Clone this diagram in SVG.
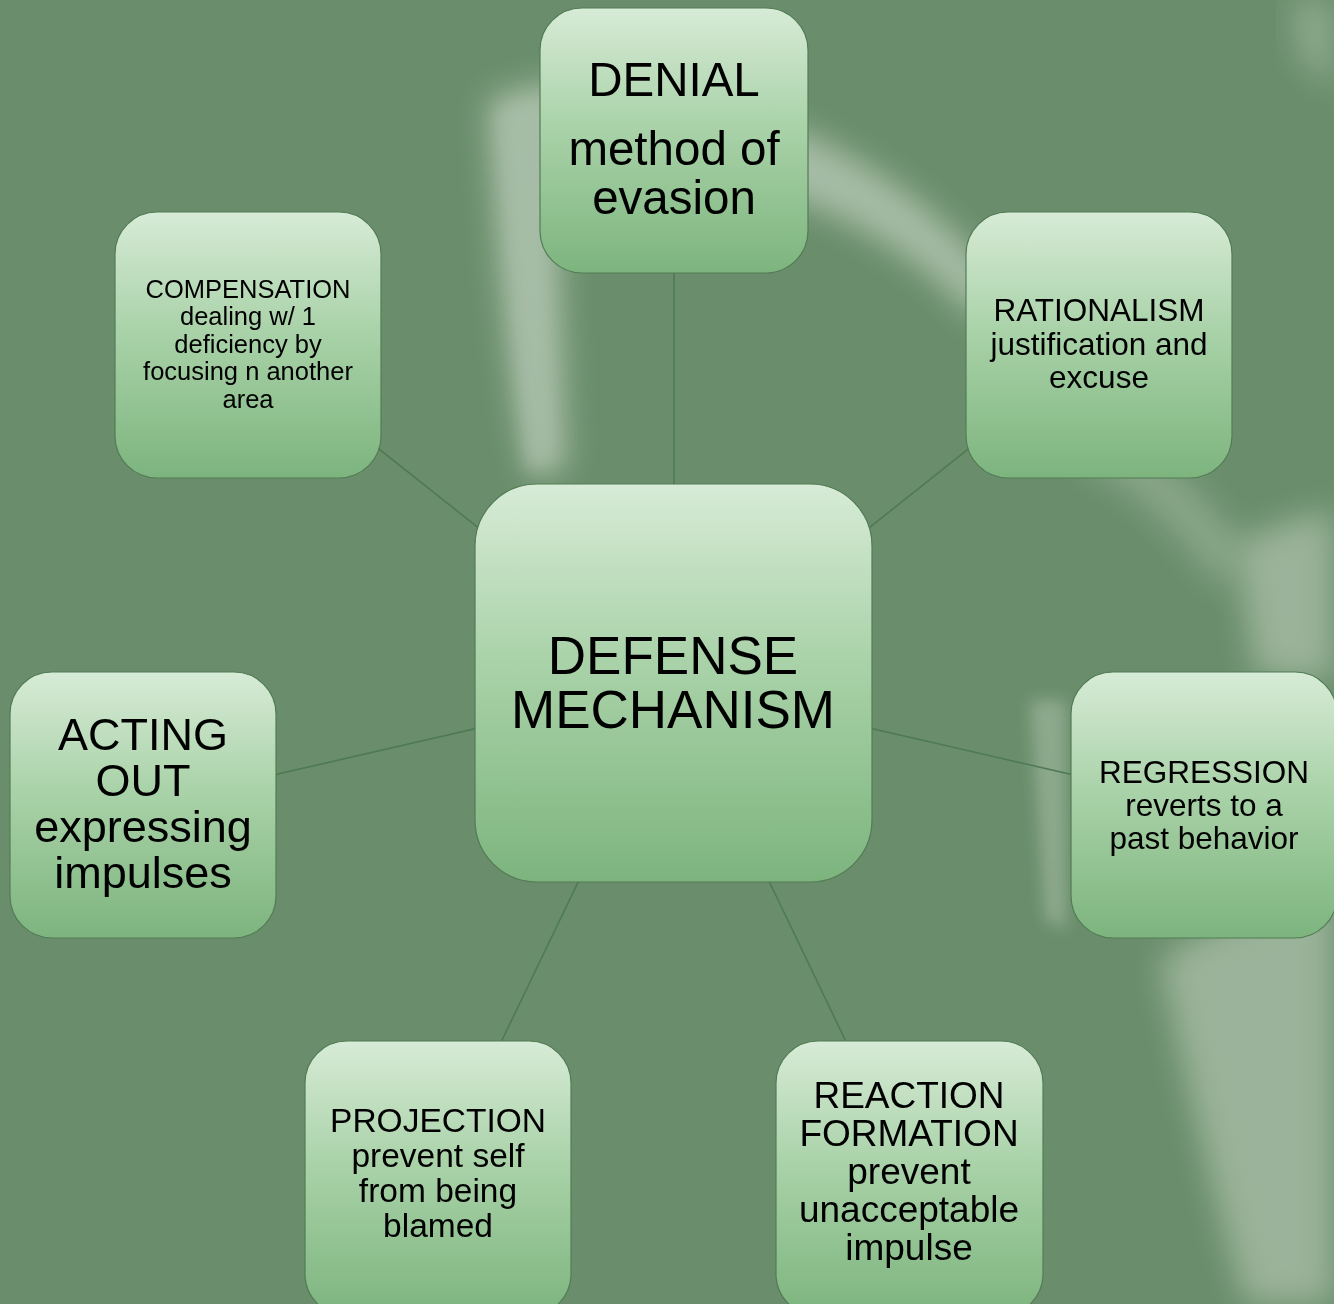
<svg xmlns="http://www.w3.org/2000/svg" width="1334" height="1304" viewBox="0 0 1334 1304">
<defs>
<linearGradient id="nodeFill" x1="0" y1="0" x2="0" y2="1">
<stop offset="0" stop-color="#d7ebd6"/>
<stop offset="0.45" stop-color="#a9d2a8"/>
<stop offset="1" stop-color="#7db47e"/>
</linearGradient>
<filter id="blur" x="-30%" y="-30%" width="160%" height="160%"><feGaussianBlur stdDeviation="16"/></filter>
<filter id="blurS" x="-30%" y="-30%" width="160%" height="160%"><feGaussianBlur stdDeviation="8"/></filter>
<style>
.node rect{fill:url(#nodeFill);stroke:#527c55;stroke-width:1.2}
.node text{font-family:"Liberation Sans",Arial,sans-serif;fill:#000;text-anchor:middle}
.conn line{stroke:#4e7a53;stroke-width:1.6}
.bg{fill:#f2f7f0}
</style>
</defs>
<rect width="1334" height="1304" fill="#6a8e6b"/>
<g id="background" opacity="0.45">
<path class="bg" filter="url(#blur)" d="M488,100 C530,80 610,72 700,92 L820,140 C900,180 960,230 1000,285 L975,320 C930,265 860,220 780,195 L650,165 C600,158 568,180 560,240 L566,470 L530,478 C508,380 496,250 488,100 Z"/>
<path class="bg" filter="url(#blurS)" d="M498,110 L538,100 L552,460 L528,470 Z" opacity="0.7"/>
<path class="bg" filter="url(#blur)" d="M1235,545 C1270,525 1310,515 1334,510 L1334,680 L1255,675 Z" opacity="0.8"/>
<path class="bg" filter="url(#blur)" d="M1160,960 C1200,930 1250,910 1334,890 L1334,1304 L1245,1304 C1215,1200 1185,1080 1160,960 Z" opacity="0.8"/>
<path class="bg" filter="url(#blurS)" d="M1030,700 L1066,700 L1066,930 L1045,920 Z" opacity="0.6"/>
<path class="bg" filter="url(#blur)" d="M1290,0 L1334,0 L1334,90 L1300,60 Z" opacity="0.6"/>
<path class="bg" filter="url(#blur)" d="M1080,430 C1130,420 1200,480 1245,550 L1220,590 C1170,520 1120,480 1080,465 Z" opacity="0.5"/>
</g>
<g id="connectors" class="conn">
<line x1="674" y1="140" x2="674" y2="683"/>
<line x1="248" y1="345" x2="674" y2="683"/>
<line x1="1099" y1="345" x2="674" y2="683"/>
<line x1="143" y1="805" x2="674" y2="683"/>
<line x1="1204" y1="805" x2="674" y2="683"/>
<line x1="438" y1="1173" x2="674" y2="683"/>
<line x1="909" y1="1173" x2="674" y2="683"/>
</g>
<g id="denial" class="node">
<rect x="540" y="8" width="268" height="265" rx="42"/>
<text font-size="47.5"><tspan x="674" y="96">DENIAL</tspan><tspan x="674" y="165">method of</tspan><tspan x="674" y="214">evasion</tspan></text>
</g>
<g id="compensation" class="node">
<rect x="115" y="212" width="266" height="266" rx="42"/>
<text font-size="25.5"><tspan x="248" y="298">COMPENSATION</tspan><tspan x="248" y="325">dealing w/ 1</tspan><tspan x="248" y="353">deficiency by</tspan><tspan x="248" y="380">focusing n another</tspan><tspan x="248" y="408">area</tspan></text>
</g>
<g id="rationalism" class="node">
<rect x="966" y="212" width="266" height="266" rx="42"/>
<text font-size="31.5"><tspan x="1099" y="321">RATIONALISM</tspan><tspan x="1099" y="355">justification and</tspan><tspan x="1099" y="388">excuse</tspan></text>
</g>
<g id="center" class="node">
<rect x="475" y="484" width="397" height="398" rx="62"/>
<text font-size="53"><tspan x="673" y="674">DEFENSE</tspan><tspan x="673" y="728">MECHANISM</tspan></text>
</g>
<g id="acting-out" class="node">
<rect x="10" y="672" width="266" height="266" rx="42"/>
<text font-size="45"><tspan x="143" y="750">ACTING</tspan><tspan x="143" y="796">OUT</tspan><tspan x="143" y="842">expressing</tspan><tspan x="143" y="888">impulses</tspan></text>
</g>
<g id="regression" class="node">
<rect x="1071" y="672" width="266" height="266" rx="42"/>
<text font-size="31.5"><tspan x="1204" y="783">REGRESSION</tspan><tspan x="1204" y="816">reverts to a</tspan><tspan x="1204" y="849">past behavior</tspan></text>
</g>
<g id="projection" class="node">
<rect x="305" y="1041" width="266" height="275" rx="42"/>
<text font-size="33.5"><tspan x="438" y="1132">PROJECTION</tspan><tspan x="438" y="1167">prevent self</tspan><tspan x="438" y="1202">from being</tspan><tspan x="438" y="1237">blamed</tspan></text>
</g>
<g id="reaction-formation" class="node">
<rect x="776" y="1041" width="267" height="275" rx="42"/>
<text font-size="37"><tspan x="909" y="1108">REACTION</tspan><tspan x="909" y="1146">FORMATION</tspan><tspan x="909" y="1184">prevent</tspan><tspan x="909" y="1222">unacceptable</tspan><tspan x="909" y="1260">impulse</tspan></text>
</g>
</svg>
